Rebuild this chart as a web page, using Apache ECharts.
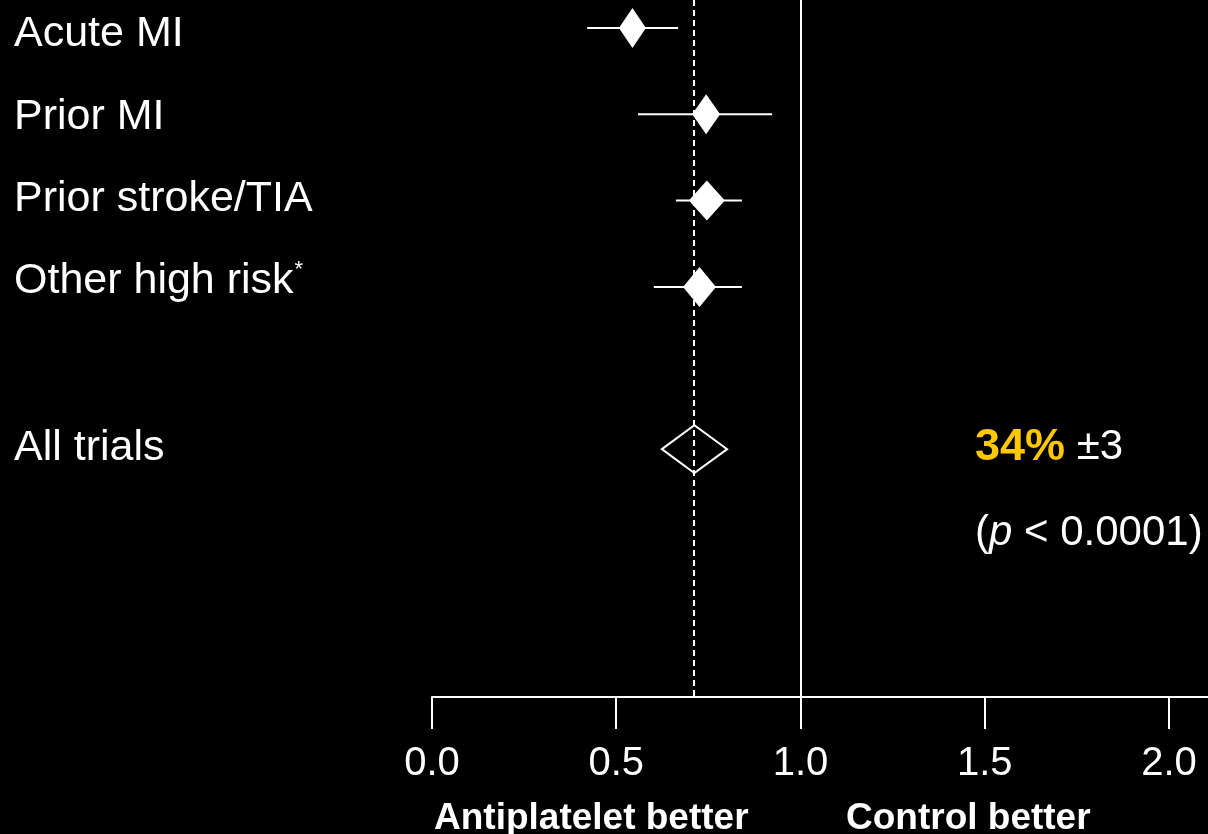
<!DOCTYPE html>
<html>
<head>
<meta charset="utf-8">
<script src="https://cdn.jsdelivr.net/npm/echarts@6/dist/echarts.min.js"></script>
<style>
  html, body { margin: 0; padding: 0; background: #000; }
  #chart { width: 1208px; height: 834px; }
</style>
</head>
<body>
<div id="chart"></div>
<script>
// ---- data ----
const groups      = ['Acute MI', 'Prior MI', 'Prior stroke/TIA', 'Other high risk', 'All trials'];
const estimates   = [0.544, 0.744, 0.746, 0.726, 0.712];
const lowerCI     = [0.421, 0.559, 0.662, 0.602, 0.624];
const upperCI     = [0.668, 0.923, 0.841, 0.841, 0.801];
const markerRow   = [0, 1, 2, 3, 4.88];
const labelRow    = [0.07, 1.03, 1.98, 2.93, 4.87];
const xTickValues = [0, 0.5, 1.0, 1.5, 2.0];
const referenceValue = 1.0;
const reductionText = '34%';
const reductionSE   = '±3';
const pText         = '0.0001';

// ---- styling ----
const FONT = "'Liberation Sans', Arial, Helvetica, sans-serif";
const diamondHalfW = [13.5, 14, 18, 16.5];
const diamondHalfH = 20;
const summaryHalfH = 24;

const subgroupData = [];
for (let i = 0; i < 4; i++) subgroupData.push([estimates[i], lowerCI[i], upperCI[i], markerRow[i]]);
const summaryData = [[estimates[4], lowerCI[4], upperCI[4], markerRow[4]]];

function nearestIdx(arr, v) {
  let best = 0, d = Infinity;
  arr.forEach((a, i) => { if (Math.abs(a - v) < d) { d = Math.abs(a - v); best = i; } });
  return best;
}

const chart = echarts.init(document.getElementById('chart'), null, { renderer: 'canvas' });
chart.setOption({
  backgroundColor: '#000',
  animation: false,
  grid: { left: 432, right: 0, top: 0, bottom: 137, containLabel: false },
  xAxis: {
    type: 'value', min: 0, max: 2.106, position: 'bottom',
    axisLine: { show: true, onZero: false, lineStyle: { color: '#fff', width: 2 } },
    axisTick: { show: true, customValues: xTickValues, length: 32, lineStyle: { color: '#fff', width: 2 } },
    axisLabel: {
      customValues: xTickValues, formatter: v => v.toFixed(1),
      color: '#fff', fontFamily: FONT, fontSize: 40, margin: 67, verticalAlign: 'middle'
    },
    splitLine: { show: false }
  },
  yAxis: {
    type: 'value', inverse: true, min: -0.324, max: 7.752,
    axisLine: { show: false }, axisTick: { show: false }, splitLine: { show: false },
    axisLabel: {
      customValues: labelRow,
      formatter: v => {
        const i = nearestIdx(labelRow, v);
        return i === 3 ? groups[i] + '{sup|*}' : groups[i];
      },
      align: 'left', margin: 418, verticalAlign: 'middle',
      color: '#fff', fontFamily: FONT, fontSize: 43,
      rich: { sup: { fontSize: 22, color: '#fff', fontFamily: FONT, verticalAlign: 'top', padding: [0, 0, 22, 1] } }
    }
  },
  series: [
    {
      type: 'custom', z: 2, silent: true,
      data: subgroupData,
      encode: { x: [0, 1, 2], y: 3 },
      renderItem: function (params, api) {
        const y = api.value(3);
        const pLo = api.coord([api.value(1), y]);
        const pHi = api.coord([api.value(2), y]);
        const pE = api.coord([api.value(0), y]);
        const hw = diamondHalfW[params.dataIndex];
        return {
          type: 'group', children: [
            { type: 'line', shape: { x1: pLo[0], y1: pLo[1], x2: pHi[0], y2: pHi[1] }, style: { stroke: '#fff', lineWidth: 2 } },
            { type: 'polygon', shape: { points: [[pE[0] - hw, pE[1]], [pE[0], pE[1] - diamondHalfH], [pE[0] + hw, pE[1]], [pE[0], pE[1] + diamondHalfH]] }, style: { fill: '#fff' } }
          ]
        };
      },
      markLine: {
        silent: true, symbol: 'none', z: 1,
        label: { show: false },
        data: [
          { xAxis: referenceValue, lineStyle: { color: '#fff', width: 2, type: 'solid' } },
          { xAxis: estimates[4], lineStyle: { color: '#fff', width: 2, type: [6, 4] } }
        ]
      }
    },
    {
      type: 'custom', z: 3, silent: true,
      data: summaryData,
      encode: { x: [0, 1, 2], y: 3 },
      renderItem: function (params, api) {
        const y = api.value(3);
        const pLo = api.coord([api.value(1), y]);
        const pHi = api.coord([api.value(2), y]);
        const pE = api.coord([api.value(0), y]);
        return {
          type: 'polygon',
          shape: { points: [[pLo[0], pLo[1]], [pE[0], pE[1] - summaryHalfH], [pHi[0], pHi[1]], [pE[0], pE[1] + summaryHalfH]] },
          style: { fill: 'rgba(0,0,0,0)', stroke: '#fff', lineWidth: 2 }
        };
      }
    }
  ],
  graphic: [
    {
      type: 'text', left: 975, top: 425, silent: true,
      style: {
        text: '{b|' + reductionText + '}{n| ' + reductionSE + '}',
        rich: {
          b: { fontFamily: FONT, fontSize: 45, fontWeight: 'bold', fill: '#FFC800', color: '#FFC800' },
          n: { fontFamily: FONT, fontSize: 42, fill: '#fff', color: '#fff' }
        }
      }
    },
    {
      type: 'text', left: 975, top: 512, silent: true,
      style: {
        text: '{n|(}{i|p}{n| < ' + pText + ')}',
        rich: {
          n: { fontFamily: FONT, fontSize: 42, fill: '#fff', color: '#fff' },
          i: { fontFamily: FONT, fontSize: 42, fontStyle: 'italic', fill: '#fff', color: '#fff' }
        }
      }
    },
    {
      type: 'text', left: 434, top: 800, silent: true,
      style: { text: 'Antiplatelet better', font: 'bold 37px ' + FONT, fill: '#fff' }
    },
    {
      type: 'text', left: 846, top: 800, silent: true,
      style: { text: 'Control better', font: 'bold 37px ' + FONT, fill: '#fff' }
    }
  ]
});
</script>
</body>
</html>
